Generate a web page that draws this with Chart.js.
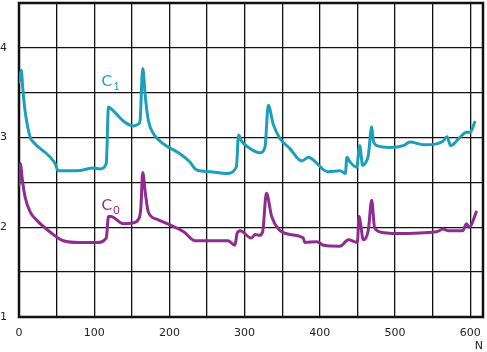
<!DOCTYPE html>
<html>
<head>
<meta charset="utf-8">
<script src="https://cdn.jsdelivr.net/npm/chart.js@4/dist/chart.umd.min.js"></script>
<style>
html,body{margin:0;padding:0;background:#fff;}
#wrap{width:487px;height:352px;position:relative;}
</style>
</head>
<body>
<div id="wrap"><canvas id="c" width="487" height="352"></canvas></div>
<script>
// Series C1 (teal)
const c1N = [0,3,5,8,15,19,48,52,77,99,108,116,119,125,141,152,159,161,164.5,168,172,179,192,214,227,236,254,276,289,292,296,307,320,327,331.5,338,347,360,376,385,394,405,411,427,434,436,440,449,453,457,460,464.5,469,471,476,493,511,520,538,555,564,569,574,586,595,600,606];
const c1Values = [3.62,3.75,3.55,3.30,3.00,2.95,2.71,2.63,2.63,2.66,2.65,2.71,3.34,3.30,3.17,3.13,3.15,3.19,3.77,3.45,3.19,3.04,2.93,2.82,2.73,2.64,2.62,2.60,2.67,3.03,2.96,2.88,2.83,2.89,3.36,3.15,2.99,2.88,2.74,2.78,2.73,2.64,2.62,2.63,2.60,2.78,2.73,2.67,2.91,2.69,2.71,2.80,3.12,2.97,2.91,2.89,2.91,2.95,2.92,2.93,2.96,3.01,2.91,3.00,3.06,3.06,3.17];
// Series C0 (purple)
const c0N = [0,2,4,8,15,23.5,41,59,81,103,116,119,122,139,152,159,162,164.5,168,172,183,205,219,234,258,278,287,290,294,309,314,320,324,329,336,345,360,378,380,396,405,427,438,450,452,458,464.5,469,473,485,502,555,564,571,590,595,599,608];
const c0Values = [2.47,2.71,2.56,2.34,2.17,2.08,1.95,1.85,1.83,1.83,1.88,2.12,2.12,2.04,2.05,2.09,2.21,2.61,2.38,2.17,2.09,2.01,1.95,1.85,1.85,1.85,1.80,1.93,1.96,1.88,1.92,1.91,1.95,2.38,2.12,1.98,1.92,1.88,1.83,1.84,1.80,1.79,1.86,1.83,2.12,1.86,1.97,2.30,1.99,1.94,1.93,1.95,1.98,1.96,1.96,2.04,2.00,2.17];
const xTickLabels = [0,100,200,300,400,500,600];
const yTickLabels = [1,2,3,4];
const xAxisTitle = "N";
const seriesNames = ["C1","C0"];

const TEAL = "#1c9fbb";
const PURPLE = "#902b90";
const tickFont = {family:"DejaVu Sans", size:11};

const toPts = (xs, ys) => xs.map((x,i)=>({x:x, y:ys[i]}));

const framePlugin = {
  id:'frame',
  beforeDatasetsDraw(chart){
    const {ctx, chartArea:a} = chart;
    ctx.save();
    ctx.strokeStyle = '#111';
    ctx.lineWidth = 2.5;
    ctx.strokeRect(a.left, a.top, a.right-a.left, a.bottom-a.top);
    ctx.restore();
  },
  afterDraw(chart){
    const {ctx, chartArea:a} = chart;
    ctx.save();
    ctx.fillStyle = '#222';
    ctx.font = '11px "DejaVu Sans"';
    ctx.textAlign = 'right';
    ctx.textBaseline = 'alphabetic';
    ctx.fillText(xAxisTitle, a.right, 349);
    const lbl = (name, color, px, py) => {
      ctx.fillStyle = color;
      ctx.textAlign = 'left';
      ctx.font = '16px "Lato"';
      ctx.fillText(name[0], px, py);
      const w = ctx.measureText(name[0]).width;
      ctx.font = '11px "Lato"';
      ctx.fillText(name.slice(1), px + w + 1, py + 4);
    };
    lbl(seriesNames[0], TEAL, 101.5, 86);
    lbl(seriesNames[1], PURPLE, 101.5, 210);
    ctx.restore();
  }
};

new Chart(document.getElementById('c'), {
  type:'scatter',
  data:{
    datasets:[
      {label:seriesNames[0], data:toPts(c1N,c1Values), showLine:true, borderColor:TEAL, borderWidth:3, pointRadius:0, cubicInterpolationMode:'monotone', borderJoinStyle:'round', borderCapStyle:'round'},
      {label:seriesNames[1], data:toPts(c0N,c0Values), showLine:true, borderColor:PURPLE, borderWidth:3, pointRadius:0, cubicInterpolationMode:'monotone', borderJoinStyle:'round', borderCapStyle:'round'}
    ]
  },
  options:{
    responsive:false,
    animation:false,
    layout:{padding:{top:3, right:4, left:0, bottom:0}},
    plugins:{legend:{display:false}, tooltip:{enabled:false}},
    scales:{
      x:{
        type:'linear', min:0, max:617,
        border:{display:false},
        grid:{color:'#111', lineWidth:1.3, drawTicks:false},
        afterBuildTicks(s){ s.ticks = []; for(let v=0; v<=617; v+=50) s.ticks.push({value:v}); },
        afterFit(s){ s.height = 35; s.paddingLeft = 0; s.paddingRight = 0; },
        ticks:{font:tickFont, color:'#222', padding:10, maxRotation:0, autoSkip:false,
          callback:(v)=> xTickLabels.includes(v) ? String(v) : ''}
      },
      y:{
        type:'linear', min:1, max:4.5,
        border:{display:false},
        grid:{color:'#111', lineWidth:1.3, drawTicks:false},
        afterBuildTicks(s){ s.ticks = []; for(let v=1; v<=4.5001; v+=0.5) s.ticks.push({value:Math.round(v*10)/10}); },
        afterFit(s){ s.width = 19; s.paddingTop = 0; s.paddingBottom = 0; },
        ticks:{font:tickFont, color:'#222', padding:12, autoSkip:false,
          callback:(v)=> yTickLabels.includes(v) ? String(v) : ''}
      }
    }
  },
  plugins:[framePlugin]
});
</script>
</body>
</html>
